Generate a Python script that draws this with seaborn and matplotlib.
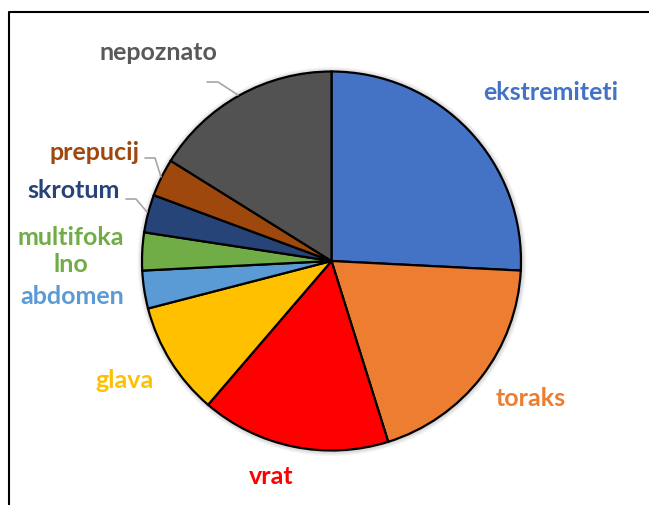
import matplotlib
matplotlib.use("Agg")
import matplotlib.pyplot as plt
from matplotlib.patches import Circle
import seaborn as sns
import numpy as np

# ---- data ----
categories = ["ekstremiteti", "toraks", "vrat", "glava", "abdomen",
              "multifokalno", "skrotum", "prepucij", "nepoznato"]
values = [8, 6, 5, 3, 1, 1, 1, 1, 5]
display_labels = ["ekstremiteti", "toraks", "vrat", "glava", "abdomen",
                  "multifoka\nlno", "skrotum", "prepucij", "nepoznato"]
colors = ["#4472C4", "#ED7D31", "#FF0000", "#FFC000", "#5B9BD5",
          "#70AD47", "#264478", "#9E480E", "#525252"]
label_colors = ["#4472C4", "#ED7D31", "#FF0000", "#FFC000", "#5B9BD5",
                "#70AD47", "#264478", "#9E480E", "#595959"]

sns.set_theme(style="white")
plt.rcParams['font.family'] = ['Lato', 'DejaVu Sans']

W, H = 649, 505
fig = plt.figure(figsize=(W / 100, H / 100), dpi=100)
ax = fig.add_axes([0, 0, 1, 1])

def py(y):
    return H - y

cx, cy, r = 331.5, 261, 189.5

# soft shadow behind the pie
for k in range(1, 6):
    ax.add_patch(Circle((cx + 0.5, py(cy) - 0.5), r + k, facecolor="black",
                        edgecolor="none", alpha=0.035, zorder=0))

wedges, _ = ax.pie(values, colors=colors, startangle=90, counterclock=False,
                   center=(cx, py(cy)), radius=r, frame=True,
                   wedgeprops=dict(edgecolor="black", linewidth=1.6, zorder=2))

ax.set_xlim(0, W)
ax.set_ylim(0, H)
ax.set_aspect("auto")
ax.axis("off")

# label positions (pixel centres)
label_pos = [(551, 93), (531, 399), (271, 476), (124, 380), (72, 296),
             (71, 251), (74, 190), (95, 152), (158, 52)]
for lab, col, (x, y) in zip(display_labels, label_colors, label_pos):
    ax.text(x, py(y), lab, color=col, fontsize=18, fontweight="bold",
            ha="center", va="center", linespacing=1.22)

# leader lines
leaders = [
    [(207, 82), (218, 82), (238, 95)],
    [(145, 158), (155, 158), (161, 177)],
    [(126, 199), (136, 199), (147, 212)],
]
for pts in leaders:
    xs = [p[0] for p in pts]
    ys = [py(p[1]) for p in pts]
    ax.plot(xs, ys, color="#A6A6A6", linewidth=1.2)

# chart frame (extends beyond the image right and bottom)
ax.plot([8.5, 8.5, W + 5], [py(H + 5), py(12), py(12)], color="black",
        linewidth=1.5, clip_on=False)

fig.savefig("out.png", dpi=100, facecolor="white")
